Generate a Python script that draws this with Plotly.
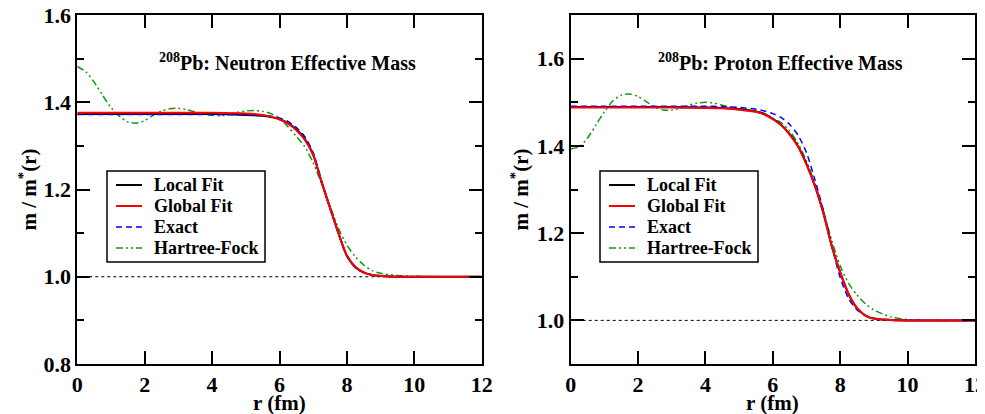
import plotly.graph_objects as go

# ---------------- data: neutron (left panel) ----------------
r_n = [0, 1, 2, 3, 4, 5, 5.5, 5.75, 6.0, 6.25, 6.5, 6.75, 7.0, 7.25, 7.5, 7.75,
       8.0, 8.25, 8.5, 8.75, 9.0, 9.5, 10, 11, 12]
local_n = [1.373, 1.373, 1.373, 1.373, 1.373, 1.371, 1.369, 1.366, 1.361, 1.352, 1.338,
           1.316, 1.280, 1.217, 1.158, 1.100, 1.048, 1.022, 1.010, 1.004, 1.002, 1.000,
           1.000, 1.000, 1.000]
global_n = [1.376, 1.376, 1.376, 1.376, 1.376, 1.374, 1.371, 1.367, 1.361, 1.351, 1.336,
            1.314, 1.279, 1.217, 1.158, 1.100, 1.049, 1.023, 1.010, 1.004, 1.002, 1.000,
            1.000, 1.000, 1.000]
exact_n = [1.372, 1.372, 1.372, 1.372, 1.372, 1.371, 1.370, 1.368, 1.364, 1.356, 1.342,
           1.321, 1.284, 1.219, 1.157, 1.098, 1.047, 1.021, 1.009, 1.004, 1.002, 1.000,
           1.000, 1.000, 1.000]
r_hf_n = [0, 0.25, 0.5, 0.75, 1.0, 1.25, 1.5, 1.75, 2.0, 2.25, 2.5, 2.75, 3.0, 3.25,
          3.5, 3.75, 4.0, 4.25, 4.5, 4.75, 5.0, 5.25, 5.5, 5.75, 6.0, 6.25, 6.5, 6.75,
          7.0, 7.25, 7.5, 7.75, 8.0, 8.25, 8.5, 8.75, 9.0, 9.5, 10, 11, 12]
hf_n = [1.482, 1.470, 1.446, 1.416, 1.388, 1.368, 1.355, 1.352, 1.358, 1.370, 1.380,
        1.385, 1.386, 1.383, 1.378, 1.373, 1.370, 1.369, 1.372, 1.377, 1.380, 1.381,
        1.379, 1.374, 1.363, 1.344, 1.322, 1.298, 1.261, 1.213, 1.162, 1.111, 1.073,
        1.046, 1.027, 1.014, 1.008, 1.003, 1.001, 1.000, 1.000]

# ---------------- data: proton (right panel) ----------------
r_p = [0, 1, 2, 3, 4, 4.5, 5.0, 5.5, 5.75, 6.0, 6.25, 6.5, 6.75, 7.0, 7.25, 7.5,
       7.75, 8.0, 8.25, 8.5, 8.75, 9.0, 9.5, 10, 11, 12]
local_p = [1.489, 1.489, 1.489, 1.489, 1.488, 1.487, 1.484, 1.479, 1.473, 1.462, 1.448,
           1.427, 1.399, 1.358, 1.308, 1.246, 1.170, 1.110, 1.060, 1.028, 1.011, 1.004,
           1.001, 1.000, 1.000, 1.000]
global_p = [1.488, 1.488, 1.488, 1.488, 1.487, 1.486, 1.483, 1.478, 1.472, 1.461, 1.447,
            1.426, 1.398, 1.357, 1.308, 1.246, 1.170, 1.110, 1.060, 1.028, 1.011, 1.004,
            1.001, 1.000, 1.000, 1.000]
exact_p = [1.491, 1.491, 1.491, 1.491, 1.491, 1.490, 1.488, 1.484, 1.480, 1.474, 1.465,
           1.449, 1.424, 1.384, 1.322, 1.252, 1.171, 1.098, 1.050, 1.024, 1.011, 1.005,
           1.001, 1.000, 1.000, 1.000]
r_hf_p = [0, 0.25, 0.5, 0.75, 1.0, 1.25, 1.5, 1.75, 2.0, 2.25, 2.5, 2.75, 3.0, 3.25,
          3.5, 3.75, 4.0, 4.25, 4.5, 4.75, 5.0, 5.25, 5.5, 5.75, 6.0, 6.25, 6.5, 6.75,
          7.0, 7.25, 7.5, 7.75, 8.0, 8.25, 8.5, 8.75, 9.0, 9.5, 10, 11, 12]
hf_p = [1.393, 1.398, 1.418, 1.448, 1.478, 1.503, 1.516, 1.519, 1.513, 1.501, 1.489,
        1.482, 1.482, 1.486, 1.493, 1.498, 1.500, 1.498, 1.493, 1.489, 1.486, 1.483,
        1.479, 1.474, 1.463, 1.453, 1.434, 1.405, 1.365, 1.313, 1.252, 1.183, 1.125,
        1.085, 1.058, 1.038, 1.024, 1.008, 1.002, 1.000, 1.000]

ref_r = [0, 12]
ref_val = [1.0, 1.0]

names = ["Local Fit", "Global Fit", "Exact", "Hartree-Fock"]
titles = ["<sup>208</sup>Pb: Neutron Effective Mass", "<sup>208</sup>Pb: Proton Effective Mass"]
x_ticks = [0, 2, 4, 6, 8, 10, 12]

FONT = "Liberation Serif, Times New Roman, Times, serif"
GREEN = "#119a11"
HF_DASH = "7px,3px,2px,3px,2px,3px"
EX_DASH = "6px,4px"
styles = [
    dict(color="black", width=2),
    dict(color="#ff0000", width=2),
    dict(color="#0000ff", width=1.5, dash=EX_DASH),
    dict(color=GREEN, width=1.5, dash=HF_DASH),
]

# The page body has an 8px default margin: size the figure so that it fills
# the rest of the 985x414 window and place things in window pixels.
OFF = 8
W = 985.0 - OFF
H = 414.0 - OFF


def px(x):
    return (x - OFF) / W


def py(y):
    return 1 - (y - OFF) / H


fig = go.Figure()

panels = [
    dict(xa="x", ya="y", r=r_n, loc=local_n, glo=global_n, ex=exact_n, rhf=r_hf_n, hf=hf_n),
    dict(xa="x2", ya="y2", r=r_p, loc=local_p, glo=global_p, ex=exact_p, rhf=r_hf_p, hf=hf_p),
]

for p in panels:
    common = dict(xaxis=p["xa"], yaxis=p["ya"], mode="lines", showlegend=False)
    fig.add_trace(go.Scatter(x=ref_r, y=ref_val, line=dict(color="black", width=1, dash="dot"),
                             hoverinfo="skip", **common))
    fig.add_trace(go.Scatter(x=p["rhf"], y=p["hf"], name=names[3],
                             line=dict(shape="spline", smoothing=0.8, **styles[3]), **common))
    fig.add_trace(go.Scatter(x=p["r"], y=p["loc"], name=names[0],
                             line=dict(shape="spline", smoothing=0.8, **styles[0]), **common))
    fig.add_trace(go.Scatter(x=p["r"], y=p["ex"], name=names[2],
                             line=dict(shape="spline", smoothing=0.8, **styles[2]), **common))
    fig.add_trace(go.Scatter(x=p["r"], y=p["glo"], name=names[1],
                             line=dict(shape="spline", smoothing=0.8, **styles[1]), **common))

tickfont = dict(family=FONT, size=22, color="black", weight="bold")
axis_common = dict(showline=True, linewidth=2, linecolor="black", mirror="allticks",
                   ticks="inside", ticklen=13, tickwidth=1.5, tickcolor="black",
                   showgrid=False, zeroline=False, tickfont=tickfont, automargin=False,
                   ticklabeloverflow="allow")
minor = dict(dtick=0.1, tick0=0, ticklen=7, ticks="inside", tickwidth=1.5, tickcolor="black")

ytop = py(15)
ybot = py(364)

fig.update_layout(
    width=int(W), height=int(H),
    margin=dict(l=0, r=0, t=0, b=0, autoexpand=False),
    paper_bgcolor="white", plot_bgcolor="white",
    showlegend=False,
    xaxis=dict(domain=[px(77.3), px(481.7)], range=[0, 12], tickvals=x_ticks, anchor="y",
               **axis_common),
    yaxis=dict(domain=[ybot, ytop], range=[0.8, 1.6], tick0=0, dtick=0.2, tickformat=".1f",
               anchor="x", minor=minor, **axis_common),
    xaxis2=dict(domain=[px(570.7), px(975)], range=[0, 12], tickvals=x_ticks, anchor="y2",
                **axis_common),
    yaxis2=dict(domain=[ybot, ytop], range=[0.9, 1.7], tick0=0, dtick=0.2, tickformat=".1f",
                anchor="x2", minor=minor, **axis_common),
)

txt_font = dict(family=FONT, size=20, color="black", weight="bold")
annots = [
    dict(text=titles[0], x=px(287), y=py(62), font=dict(txt_font, size=20)),
    dict(text=titles[1], x=px(780), y=py(62), font=dict(txt_font, size=20)),
    dict(text="r (fm)", x=px((77.3 + 481.7) / 2), y=py(403), font=dict(txt_font, size=21)),
    dict(text="r (fm)", x=px((570.7 + 975) / 2), y=py(403), font=dict(txt_font, size=21)),
    dict(text="m / m<sup>*</sup>(r)", x=px(28), y=py(189.5), textangle=-90,
         font=dict(txt_font, size=21)),
    dict(text="m / m<sup>*</sup>(r)", x=px(520), y=py(189.5), textangle=-90,
         font=dict(txt_font, size=21)),
]
for a in annots:
    fig.add_annotation(xref="paper", yref="paper", showarrow=False,
                       xanchor="center", yanchor="middle", **a)

# ---------------- legends (one box per panel) ----------------
legend_boxes = [
    dict(x0=107, x1=265, y0=171, y1=262, s0=116, s1=142, tx=152),
    dict(x0=600, x1=758, y0=171, y1=262, s0=609, s1=635, tx=645),
]
row_y = [185, 206, 227, 248]
for b in legend_boxes:
    fig.add_shape(type="rect", xref="paper", yref="paper",
                  x0=px(b["x0"]), x1=px(b["x1"]), y0=py(b["y1"]), y1=py(b["y0"]),
                  line=dict(color="black", width=1.5), fillcolor="white", layer="above")
    for i, nm in enumerate(names):
        yy = py(row_y[i])
        fig.add_shape(type="line", xref="paper", yref="paper",
                      x0=px(b["s0"]), x1=px(b["s1"]), y0=yy, y1=yy,
                      line=styles[i], layer="above")
        fig.add_annotation(xref="paper", yref="paper", showarrow=False, text=nm,
                           x=px(b["tx"]), y=yy, xanchor="left", yanchor="middle",
                           font=dict(txt_font, size=18))

fig.write_html("out.html")
